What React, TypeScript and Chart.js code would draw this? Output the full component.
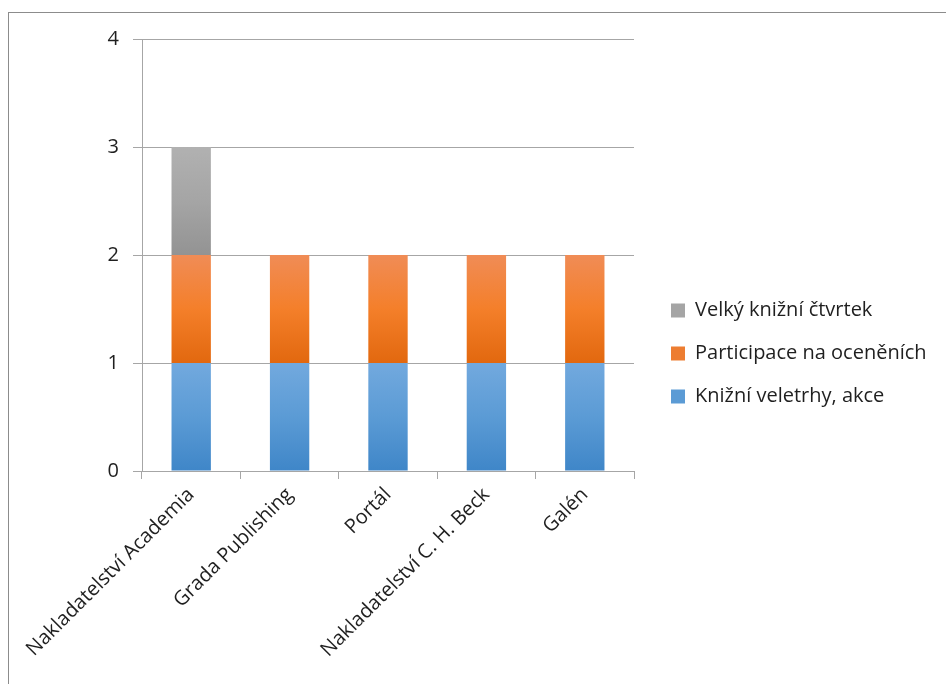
import React, { useEffect, useRef } from 'react';
import { Chart, registerables } from 'chart.js';

Chart.register(...registerables);

// ---- data ----
const categories = [
  'Nakladatelství Academia',
  'Grada Publishing',
  'Portál',
  'Nakladatelství C. H. Beck',
  'Galén',
];
const seriesNames = ['Knižní veletrhy, akce', 'Participace na oceněních', 'Velký knižní čtvrtek'];
const knizniVeletrhy = [1, 1, 1, 1, 1];
const participace = [1, 1, 1, 1, 1];
const velkyCtvrtek = [1, 0, 0, 0, 0];
const yMin = 0;
const yMax = 4;
const yStep = 1;

// ---- styles ----
const FONT = '"Open Sans", Lato, sans-serif';
const TEXT = '#1f1f1f';
const GRID = '#a6a6a6';
const FRAME = '#8c8c8c';

const palettes = [
  { solid: '#5b9bd5', stops: ['#72a9de', '#5b9bd5', '#3f86c8'] },
  { solid: '#ed7d31', stops: ['#f08c56', '#f47f2a', '#e2680f'] },
  { solid: '#a5a5a5', stops: ['#b1b1b1', '#a5a5a5', '#939393'] },
];

const CW = 937;
const CH = 671;
const AREA_LEFT = 133;
const AREA_TOP = 26;
const AREA_BOTTOM = 458;
const LEGEND_W = 312;
const LEG_PAD = 23;
const LEG_SHIFT_X = 14;
const LEG_SHIFT_Y = -8;

const seriesData = [knizniVeletrhy, participace, velkyCtvrtek];

function gradientFill(di: number) {
  return (ctx: any) => {
    const chart = ctx.chart;
    const pal = palettes[di];
    if (ctx.type !== 'data' || !chart.chartArea) return pal.solid;
    const y = chart.scales.y;
    const i = ctx.dataIndex;
    let base = 0;
    for (let d = 0; d < di; d++) base += seriesData[d][i];
    const top = y.getPixelForValue(base + seriesData[di][i]);
    const bottom = y.getPixelForValue(base);
    if (!isFinite(top) || !isFinite(bottom) || top === bottom) return pal.solid;
    const g = chart.ctx.createLinearGradient(0, top, 0, bottom);
    g.addColorStop(0, pal.stops[0]);
    g.addColorStop(0.5, pal.stops[1]);
    g.addColorStop(1, pal.stops[2]);
    return g;
  };
}

const legendPlacement = {
  id: 'legendPlacement',
  beforeLayout(chart: any) {
    const l = chart.legend;
    if (!l || l.__fixedFit) return;
    const orig = l.fit.bind(l);
    l.fit = () => {
      orig();
      l.width = LEGEND_W;
    };
    l.__fixedFit = true;
  },
  afterLayout(chart: any) {
    const l = chart.legend;
    if (!l) return;
    l.left += LEG_SHIFT_X;
    l.right = chart.width;
    l.top += LEG_SHIFT_Y;
    l.bottom += LEG_SHIFT_Y;
  },
};

export default function App() {
  const ref = useRef<HTMLCanvasElement | null>(null);

  useEffect(() => {
    if (!ref.current) return;
    const chart = new Chart(ref.current, {
      type: 'bar',
      data: {
        labels: categories,
        datasets: seriesData.map((d, di) => ({
          label: seriesNames[di],
          data: d,
          backgroundColor: gradientFill(di),
          borderWidth: 0,
          categoryPercentage: 0.4,
          barPercentage: 1,
        })),
      },
      plugins: [legendPlacement],
      options: {
        animation: false,
        responsive: false,
        maintainAspectRatio: false,
        layout: { padding: { top: AREA_TOP, right: 0, bottom: 0, left: 0 } },
        plugins: {
          tooltip: { enabled: false },
          legend: {
            position: 'right',
            align: 'center',
            reverse: true,
            labels: {
              color: TEXT,
              font: { family: FONT, size: 20 },
              boxWidth: 14,
              boxHeight: 14,
              padding: LEG_PAD,
              generateLabels: (chart: any) => {
                const items = Chart.defaults.plugins.legend.labels.generateLabels(chart);
                return items.map((it: any) => ({
                  ...it,
                  fillStyle: palettes[it.datasetIndex].solid,
                  strokeStyle: 'rgba(0,0,0,0)',
                  lineWidth: 0,
                }));
              },
            },
          },
        },
        scales: {
          x: {
            stacked: true,
            offset: true,
            grid: {
              display: true,
              offset: true,
              drawOnChartArea: false,
              drawTicks: true,
              tickLength: 8,
              color: GRID,
            },
            border: { display: true, color: GRID, width: 1 },
            ticks: {
              color: TEXT,
              font: { family: FONT, size: 20 },
              minRotation: 45,
              maxRotation: 45,
              autoSkip: false,
              padding: 4,
            },
            afterFit: (s: any) => {
              s.height = CH - AREA_BOTTOM;
              s.paddingLeft = 0;
              s.paddingRight = 0;
            },
          },
          y: {
            stacked: true,
            min: yMin,
            max: yMax,
            grid: { color: GRID, tickLength: 9, drawTicks: true },
            border: { display: true, color: GRID, width: 1 },
            ticks: {
              stepSize: yStep,
              color: TEXT,
              font: { family: FONT, size: 20 },
              padding: 14,
            },
            afterFit: (s: any) => {
              s.width = AREA_LEFT;
              s.paddingTop = 0;
              s.paddingBottom = 0;
            },
          },
        },
      },
    });
    return () => chart.destroy();
  }, []);

  return (
    <div
      style={{
        position: 'absolute',
        left: 8,
        top: 12,
        width: CW,
        height: CH,
        borderTop: `1px solid ${FRAME}`,
        borderLeft: `1px solid ${FRAME}`,
        background: '#fff',
      }}
    >
      <canvas ref={ref} width={CW} height={CH} style={{ display: 'block' }} />
    </div>
  );
}
